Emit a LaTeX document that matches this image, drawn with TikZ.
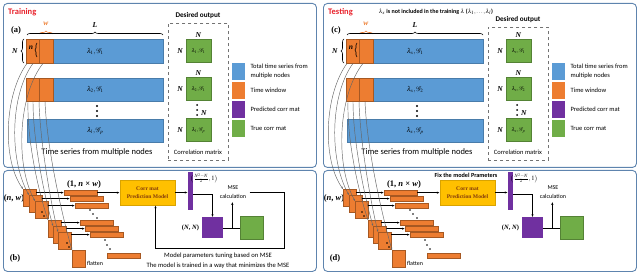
\documentclass[tikz,border=0pt]{standalone}
\usepackage{mathptmx}
\usepackage[no-math]{fontspec}
\setmainfont{Liberation Serif}
\setsansfont{Carlito}
\usetikzlibrary{arrows.meta,positioning,calc,decorations.pathreplacing}
\definecolor{tsblue}{HTML}{5B9BD5}
\definecolor{twin}{HTML}{ED7D31}
\definecolor{pcorr}{HTML}{7030A0}
\definecolor{tcorr}{HTML}{70AD47}
\definecolor{cmyel}{HTML}{FFC000}
\definecolor{frame}{HTML}{5E84AE}
\definecolor{ttl}{HTML}{E8212B}
\definecolor{cmtxt}{HTML}{843C0C}
\newcommand\fsz[2]{\fontsize{#1}{#2}\selectfont}
\newcommand\bi[1]{\textbf{\textit{#1}}}
\tikzset{
 panel/.style={draw=frame,rounded corners=4pt,line width=0.9pt,anchor=north west,inner sep=0},
 bar/.style={draw=tsblue!80!black,fill=tsblue,anchor=north west,minimum width=136pt,
             minimum height=24pt,inner sep=0,font=\fsz{7}{8}},
 win/.style={draw=twin!70!black,fill=twin,line width=0.4pt,anchor=north west,inner sep=0},
 flat/.style={draw=twin!70!black,fill=twin,line width=0.3pt,anchor=north west,inner sep=0,
             minimum width=33pt,minimum height=5pt},
 gm/.style={draw=tcorr!75!black,fill=tcorr,minimum width=25pt,minimum height=23pt,inner sep=0,
             font=\fsz{5.5}{6}},
 leg/.style={anchor=north west,minimum width=13pt,minimum height=17pt,inner sep=0},
 legt/.style={align=left,font=\sffamily\fsz{6.5}{9},inner sep=0},
 dbox/.style={draw=black!55,dashed,line width=0.7pt,anchor=north west,inner sep=0},
 dim/.style={font=\fsz{7.5}{8},inner sep=0.5pt},
 lbl/.style={font=\bfseries\fsz{8.5}{9}},
 captxt/.style={font=\sffamily\fsz{6.5}{8}},
 note/.style={font=\sffamily\fsz{6.6}{8}},
 ttl/.style={font=\sffamily\bfseries\fsz{8.5}{9},text=ttl,anchor=west,inner sep=0},
 brc/.style={decorate,decoration={brace,amplitude=3pt},line width=0.6pt},
 link/.style={draw=black!60,line width=0.45pt,-{Stealth[length=2.5pt]}},
 arrow/.style={-{Latex[length=3pt]},line width=0.7pt},
 cmbox/.style={fill=cmyel,draw=cmyel!85!black,minimum width=55pt,minimum height=25pt,align=center,
             inner sep=0,font=\bfseries\fsz{5.6}{8},text=cmtxt}
}
\begin{document}
\begin{tikzpicture}[x=1pt,y=-1pt]
\useasboundingbox (0,0) rectangle (640,275);
\foreach \ox/\pa/\pb/\la/\lb/\lc/\gb/\dt in {0/a/b/\lambda_1/\lambda_2/\lambda_l/1/0,
                                        320/c/d/\lambda_x/\lambda_x/\lambda_x/2/4}{
% upper part
\node[panel,minimum width=313pt,minimum height=164pt] (top\pa) at (\ox+3,3) {};
\node[lbl] (tag\pa) at (\ox+16,30) {(\pa)};
\node[bar] (ts1\pa) at (\ox+27,39) {$\la,\mathcal{G}_1$};
\node[bar,minimum height=23pt] (ts2\pa) at (\ox+27,78) {$\lb,\mathcal{G}_\gb$};
\node[bar,minimum height=23pt] (ts3\pa) at (\ox+27,119) {$\lc,\mathcal{G}_p$};
\foreach \yy in {106,111,116} \fill (\ox+97,\yy) circle (1.1pt);
\node[win,minimum width=13pt,minimum height=24pt] (wn\pa) at (\ox+26,39) {};
\node[win,minimum width=14pt,minimum height=24pt] (ww\pa) at (\ox+39,39) {};
\node[win,minimum width=13pt,minimum height=23pt] (wm\pa) at (\ox+26,78) {};
\node[win,minimum width=14pt,minimum height=23pt] (wv\pa) at (\ox+39,78) {};
\node[dim] (nn\pa) at (\ox+31,48) {\bi{n}};
\draw[brc,decoration={amplitude=2pt}] (\ox+37,57) -- (\ox+37,43);
\draw[brc] (\ox+24,63) -- (\ox+24,39);
\node[dim] (nN\pa) at (\ox+15,51) {\bi{N}};
\draw[brc,draw=twin] (\ox+39,34) -- (\ox+53,34);
\node[dim,text=twin] (wl\pa) at (\ox+46,24) {\bi{w}};
\draw[brc] (\ox+27,35) -- (\ox+163,35);
\node[dim] (Ll\pa) at (\ox+95,25) {\bi{L}};
\node[captxt,font=\sffamily\fsz{8.5}{9}] (tsl\pa) at (\ox+97,152) {Time series from multiple nodes};
% desired output
\node[dbox,minimum width=60pt,minimum height=137pt-\dt pt] (dout\pa) at (\ox+168,23+\dt) {};
\node[captxt,font=\sffamily\bfseries\fsz{7.2}{8}] (doutl\pa) at (\ox+198,16+\dt) {Desired output};
\node[captxt] (crl\pa) at (\ox+198,152) {Correlation matrix};
\node[gm] (g1\pa) at (\ox+198.5,51) {$\la,\mathcal{G}_1$};
\node[gm] (g2\pa) at (\ox+198.5,89) {$\lb,\mathcal{G}_\gb$};
\node[gm] (g3\pa) at (\ox+198.5,130) {$\lc,\mathcal{G}_p$};
\node[dim,above=1pt of g1\pa] (g1t\pa) {\bi{N}};
\node[dim,left=2pt of g1\pa] (g1l\pa) {\bi{N}};
\node[dim,above=1pt of g2\pa] (g2t\pa) {\bi{N}};
\node[dim,left=2pt of g2\pa] (g2l\pa) {\bi{N}};
\node[dim,left=2pt of g3\pa] (g3l\pa) {\bi{N}};
\foreach \yy in {105,110,115} \fill (\ox+197,\yy) circle (1pt);
\node[dim] (g3t\pa) at (\ox+204,113) {\bi{N}};
% legend
\node[leg,fill=tsblue] (k1\pa) at (\ox+232,63) {};
\node[leg,fill=twin] (k2\pa) at (\ox+232,82) {};
\node[leg,fill=pcorr] (k3\pa) at (\ox+232,101) {};
\node[leg,fill=tcorr] (k4\pa) at (\ox+232,120) {};
\node[legt,right=5pt of k1\pa] (k1t\pa) {Total time series from\\multiple nodes};
\node[legt,right=5pt of k2\pa] (k2t\pa) {Time window};
\node[legt,right=5pt of k3\pa] (k3t\pa) {Predicted corr mat};
\node[legt,right=5pt of k4\pa] (k4t\pa) {True corr mat};
% lower part
\node[panel,minimum width=313pt,minimum height=101pt] (bot\pa) at (\ox+3,170) {};
\node[lbl] (tag\pb) at (\ox+15,258) {(\pb)};
\node[dim,font=\bfseries\fsz{8.5}{9}] (nw\pa) at (\ox+14,198) {(\textit{n}, \textit{w})};
\node[dim,font=\bfseries\fsz{8.5}{9}] (nxw\pa) at (\ox+84,184) {(1, \textit{n} × \textit{w})};
\foreach \i/\sx/\sy in {1/23/189,2/29/195,3/35/201,4/48/220,5/53/226,6/58/232,7/72/250}
  \node[win,minimum width=13pt,minimum height=17pt] (sq\i\pa) at (\ox+\sx,\sy) {};
\foreach \i/\fx/\fy in {1/64/190,2/70/196,3/75/203,4/80/220,5/85/226,6/90/232,7/107/253}
  \node[flat] (fb\i\pa) at (\ox+\fx,\fy) {};
\foreach \i in {1,...,6}
  \draw[arrow] (sq\i\pa.east |- fb\i\pa.west) -- (fb\i\pa.west);
\foreach \dx/\dy in {42/212,44/216,67/243,69/247,90/210,93/214,97/218,105/240,107/245,110/249}
  \fill (\ox+\dx,\dy) circle (0.8pt);
\node[captxt,font=\sffamily\fsz{6}{7}] (flt\pa) at (\ox+95,263) {flatten};
\node[cmbox] (cm\pa) at (\ox+147.5,192.5) {Corr mat\\Prediction Model};
\node[fill=pcorr,minimum width=5pt,minimum height=38pt,inner sep=0] (pb\pa) at (\ox+190.5,191) {};
\node[font=\fsz{6.5}{7},inner sep=0] (fr\pa) at (\ox+204,178) {$\bigl(\frac{N^2-N}{2},1\bigr)$};
\node[fill=pcorr,minimum size=21pt,inner sep=0] (psq\pa) at (\ox+212.5,228) {};
\node[gm,minimum width=23pt] (gsq\pa) at (\ox+251.5,228) {};
\node[dim,font=\bfseries\fsz{6.5}{7},left=2pt of psq\pa] (nnl\pa) {(\textit{N}, \textit{N})};
\node[note,align=center,font=\sffamily\fsz{6}{8.5}] (mse\pa) at (\ox+233,192) {MSE\\calculation};
\draw[arrow] (fb1\pa.east) -- (fb1\pa.east -| cm\pa.west);
\draw[arrow] (cm\pa.east) -- (cm\pa.east -| pb\pa.west);
\draw[arrow] ($(pb\pa.east)+(0,3)$) -| (psq\pa.north);
\draw[line width=0.7pt] (psq\pa.east) -- (gsq\pa.west);
\coordinate (jn\pa) at ($(psq\pa.east)!0.55!(gsq\pa.west)$);
\draw[arrow] (jn\pa) -- (jn\pa |- mse\pa.south);
% windows to stacked inputs
\draw[link] ($(wn\pa.south west)+(1,0)$) .. controls (\ox+4,95) and (\ox+2,160) .. (sq1\pa.north west);
\draw[link] ($(wn\pa.south west)+(7,0)$) .. controls (\ox+10,95) and (\ox+9,160) .. (sq2\pa.north west);
\draw[link] ($(ww\pa.south west)+(4,0)$) .. controls (\ox+18,95) and (\ox+15,165) .. (sq3\pa.north west);
\draw[link] ($(wm\pa.south west)+(2,0)$) .. controls (\ox+27,140) and (\ox+38,190) .. (sq4\pa.north west);
\draw[link] ($(wm\pa.south west)+(7,0)$) .. controls (\ox+33,140) and (\ox+44,195) .. (sq5\pa.north west);
\draw[link] (wv\pa.south west) .. controls (\ox+40,140) and (\ox+50,200) .. (sq6\pa.north west);
\draw[link] ($(wv\pa.south west)+(6,0)$) .. controls (\ox+47,150) and (\ox+62,215) .. (sq7\pa.north west);
}
% training only
\node[ttl] (trn) at (8,12) {Training};
\coordinate (fbk) at (284,248);
\draw[arrow] (msea.east) -| (fbk) -| ([xshift=8pt]cma.south);
\node[note] (tune) at (218,256) {Model parameters tuning based on MSE};
\node[note] (mini) at (218,266) {The model is trained in a way that minimizes the MSE};
% testing only
\node[ttl] (tst) at (328,12) {Testing};
\node[note,font=\sffamily\bfseries\fsz{6}{7}] (excl) at (436,12)
  {$\lambda_x$ is not included in the training $\lambda$ ($\lambda_1,\ldots,\lambda_l$)};
\node[note,font=\sffamily\bfseries\fsz{6.2}{8}] (fix) at (466,175) {Fix the model Prameters};
\end{tikzpicture}
\end{document}
